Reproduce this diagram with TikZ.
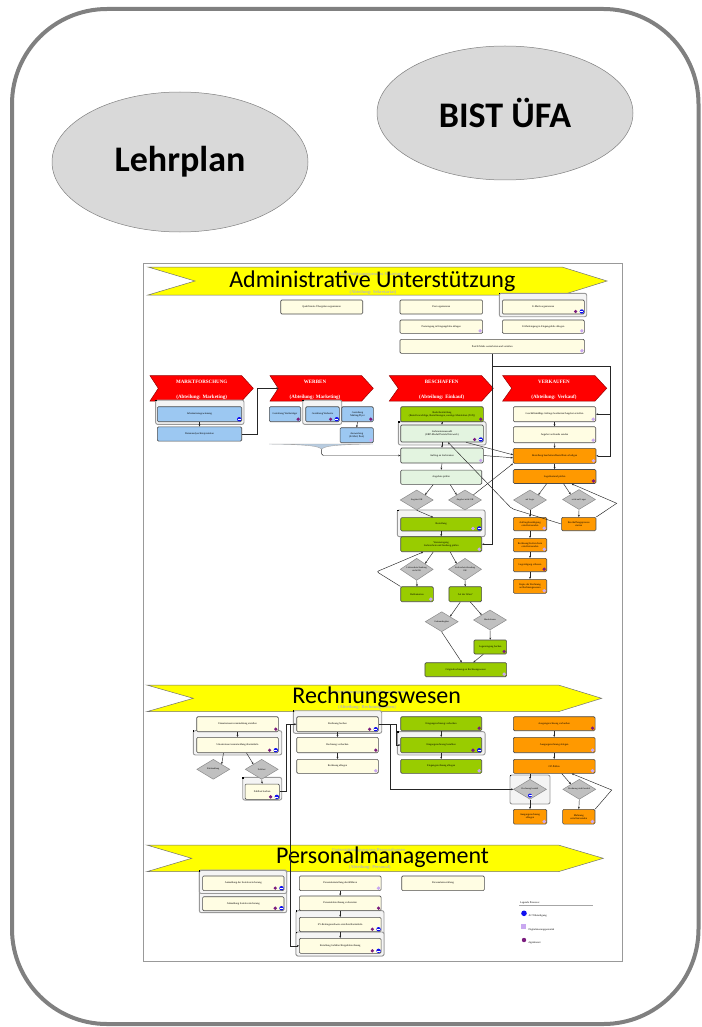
\documentclass[tikz,border=0pt]{standalone}
\usepackage{fontspec}
\setmainfont{Liberation Serif}
\newfontfamily\calfont{Carlito}
\usetikzlibrary{arrows.meta,shapes.geometric}
\definecolor{creamc}{HTML}{FFFDE3}
\definecolor{bluec}{HTML}{9CC8F2}
\definecolor{greenc}{HTML}{99CC00}
\definecolor{lgreenc}{HTML}{E3F4E0}
\definecolor{orangec}{HTML}{FF9900}
\definecolor{redc}{HTML}{FF0000}
\definecolor{yellc}{HTML}{FFFF00}
\definecolor{diac}{HTML}{C0C0C0}
\definecolor{grpc}{HTML}{F4F4F4}
\definecolor{purpc}{HTML}{7B1C7E}
\definecolor{lilac}{HTML}{C9A8F0}
\definecolor{actc}{HTML}{1010F0}
\definecolor{ellc}{HTML}{D9D9D9}
\definecolor{bracec}{HTML}{B8CCE0}
\newcommand\icL[2][2.8]{\fill[lilac] ([shift={(-#1pt,2.8pt)}]#2.south east) circle (1.9pt);}
\newcommand\icP[2][2.8]{\fill[purpc] ([shift={(-#1pt,2.8pt)}]#2.south east) circle (1.8pt);}
\newcommand\icA[1]{\fill[actc] ([shift={(-2.8pt,2.8pt)}]#1.south east) circle (2.2pt);
  \draw[white,line width=0.45pt] ([shift={(-4.3pt,2.8pt)}]#1.south east) -- ([shift={(-1.3pt,2.8pt)}]#1.south east);}
\newcommand\gmark[1]{\fill[black] (#1.north west) rectangle ([shift={(1.6pt,-1.6pt)}]#1.north west);}
\tikzset{
  tf/.style={font=\fontsize{2.6}{3.0}\selectfont},
  wh/.style 2 args={minimum width=#1pt, minimum height=#2pt},
  bx/.style={draw=black!70, line width=0.6pt, rounded corners=1.2pt, inner sep=0pt, align=center, tf, text=black},
  cbox/.style={bx, fill=creamc},
  bbox/.style={bx, fill=bluec},
  gbox/.style={bx, fill=greenc},
  lbox/.style={bx, fill=lgreenc},
  obox/.style={bx, fill=orangec},
  dia/.style={diamond, aspect=1.6, draw=black!45, fill=diac, line width=0.5pt, inner sep=0pt,
     font=\fontsize{2.3}{2.7}\selectfont, align=center, minimum width=33pt, minimum height=20pt},
  grp/.style={draw=black!40, fill=grpc, line width=0.9pt, rounded corners=2pt, inner sep=0pt},
  conn/.style={draw=black!85, line width=0.45pt, -{Stealth[length=2.2pt,width=1.9pt]}},
  ln/.style={draw=black!85, line width=0.45pt},
  bannerfill/.style={fill=yellc, draw=black!55, line width=0.5pt},
  chevfill/.style={fill=redc, draw=red!60!black, line width=0.5pt},
  bannertext/.style={font=\calfont\fontsize{24}{24}\selectfont, inner sep=0pt},
  subtext/.style={font=\bfseries\fontsize{4.5}{5}\selectfont, text=black!28, inner sep=0pt},
  chevtext/.style={font=\bfseries\fontsize{5}{6}\selectfont, text=white, inner sep=0pt},
  elltext/.style={ellipse, draw=black!50, fill=ellc, line width=0.5pt, font=\calfont\bfseries\fontsize{36}{36}\selectfont},
  legtext/.style={font=\fontsize{2.6}{3}\selectfont, anchor=west, inner sep=0pt},
}
\begin{document}
\begin{tikzpicture}[x=1pt,y=-1pt]
\useasboundingbox (0,0) rectangle (701,1027);
% outer frame
\draw[line width=4pt, draw=black!50, fill=white, rounded corners=95pt] (12,9) rectangle (698.5,1024);
\node[elltext, minimum width=256pt, minimum height=140pt] (lehrplan) at (180,162) {Lehrplan};
\node[elltext, minimum width=256pt, minimum height=134pt] (bist) at (505,113) {BIST ÜFA};
% inner diagram frame
\draw[draw=black!40, line width=0.8pt, fill=white] (143,263) rectangle (622,961);

% ---------- banners ----------
\path[bannerfill] (148,267) -- (562,267) -- (607,281) -- (562,295) -- (148,295) -- (195,281) -- cycle;
\node[subtext] (sa1) at (373,274.7) {Unterstützungsprozess Sekretariat};
\node[subtext] (sa2) at (373,292.3) {(Abteilung: Sekretariat)};
\node[bannertext] (ta) at (372.3,281.7) {Administrative Unterstützung};

\path[bannerfill] (146.7,685) -- (558.3,685) -- (601.7,698.3) -- (558.3,711.7) -- (146.7,711.7) -- (193.3,698.3) -- cycle;
\node[subtext] (sr1) at (367,692.7) {Unterstützungsprozess Rechnungswesen};
\node[subtext] (sr2) at (367,707.3) {(Abteilung: Rechnungswesen)};
\node[bannertext] (tr) at (376.7,697.5) {Rechnungswesen};

\path[bannerfill] (146.7,845) -- (558.3,845) -- (603.3,858.3) -- (558.3,871.7) -- (146.7,871.7) -- (191.7,858.3) -- cycle;
\node[subtext] (sp1) at (368.7,850.7) {Unterstützungsprozess Personalwesen};
\node[subtext] (sp2) at (369.7,867.3) {(Abteilung: Personal)};
\node[bannertext] (tp) at (382.5,857.5) {Personalmanagement};

% ---------- red chevrons ----------
\path[chevfill] (150,375.7) -- (241.7,375.7) -- (253.3,388.3) -- (241.7,401) -- (150,401) -- (158.3,388.3) -- cycle;
\node[chevtext] (cm1) at (201.7,381.7) {MARKTFORSCHUNG};
\node[chevtext] (cm2) at (201.7,397.3) {(Abteilung: Marketing)};
\path[chevfill] (270,375.7) -- (361.7,375.7) -- (373.3,388.3) -- (361.7,401) -- (270,401) -- (278.3,388.3) -- cycle;
\coordinate (wn) at (278.3,388.3);
\node[chevtext] (cw1) at (315,381.7) {WERBEN};
\node[chevtext] (cw2) at (315,397.3) {(Abteilung: Marketing)};
\path[chevfill] (389.3,375.7) -- (481.7,375.7) -- (493.3,388.3) -- (481.7,401) -- (389.3,401) -- (398.3,388.3) -- cycle;
\node[chevtext] (cb1) at (441.7,381.7) {BESCHAFFEN};
\node[chevtext] (cb2) at (441.7,397.3) {(Abteilung: Einkauf)};
\path[chevfill] (502.7,375.7) -- (595,375.7) -- (606.7,388.3) -- (595,401) -- (502.7,401) -- (511.7,388.3) -- cycle;
\node[chevtext] (cv1) at (554,381.7) {VERKAUFEN};
\node[chevtext] (cv2) at (554,397.3) {(Abteilung: Verkauf)};

% ---------- groups ----------
\node[grp, wh={87.4}{23.4}] (ga3) at (543,305) {}; \gmark{ga3}
\node[grp, wh={88.3}{24.3}] (gm1) at (199.8,412.2) {}; \gmark{gm1}
\node[grp, wh={39}{24.3}] (gw2) at (322.2,412.2) {}; \gmark{gw2}
\node[grp, wh={87.7}{23.3}] (gb2) at (442.2,433.3) {}; \gmark{gb2}
\node[grp, wh={87.7}{26.7}] (gb5) at (441.2,523.3) {}; \gmark{gb5}
\node[grp, wh={88.4}{24.3}] (gr2) at (237.5,742.8) {}; \gmark{gr2}
\node[grp, wh={39}{22.7}] (gr3) at (262.2,788.7) {}; \gmark{gr3}
\node[grp, wh={88.4}{22.6}] (gr4) at (337.5,722) {}; \gmark{gr4}
\node[grp, wh={87.7}{23.3}] (ge2) at (441.2,743.3) {}; \gmark{ge2}
\node[grp, wh={40}{29}] (go4) at (530,789.5) {}; \gmark{go4}
\node[grp, wh={87.4}{42.7}] (gp1) at (243,891.3) {}; \gmark{gp1}
\node[grp, wh={87.4}{23}] (gp1b) at (243,882) {}; \gmark{gp1b}
\node[grp, wh={88}{45.3}] (gp5) at (340,933.3) {}; \gmark{gp5}
\node[grp, wh={88}{24}] (gp5b) at (340,944) {}; \gmark{gp5b}

% ---------- Administrative ----------
\node[cbox, wh={82}{14}] (a1) at (321.7,307) {Qualifizierte Übergaben organisieren};
\node[cbox, wh={82.7}{14}] (a2) at (441.3,307) {Post organisieren};
\node[cbox, wh={82}{14}] (a3) at (543.3,307) {E-Mails organisieren};
\node[cbox, wh={82.7}{13.4}] (a4) at (441.3,326.7) {Posteingang in Eingangsfolie ablegen};
\node[cbox, wh={82}{13.4}] (a5) at (543.3,326.7) {E-Maileingang in Eingangsfolie ablegen};
\node[cbox, wh={184.4}{14}] (a6) at (492.2,346.3) {Post/E-Mails weiterleiten und verteilen};
\icP[9]{a3}\icA{a3} \icL{a4} \icL{a5} \icL{a6}

% ---------- Marktforschung / Werben ----------
\node[bbox, wh={84.4}{15}] (m1) at (199.5,414.2) {Informationsgewinnung};
\node[bbox, wh={84.4}{14.3}] (m2) at (199.5,434) {Datenanalyse/Interpretation};
\icA{m1}
\node[bbox, wh={31.4}{15}] (w1) at (285,414.2) {Gestaltung Werbeträger};
\node[bbox, wh={33.6}{15}] (w2) at (322.5,414.2) {Gestaltung Webseite};
\node[bbox, wh={31.6}{15}] (w3) at (357.5,414.2) {Gestaltung\\Mailing/Flyer};
\node[bbox, wh={33.3}{15}] (w4) at (356.7,435.2) {Auswertung\\(E-Mail, Post)};
\icP{w1} \icP[9]{w2}\icA{w2} \icP{w3} \icL{w4}
\path[fill=bracec, draw=black!35, line width=0.4pt] (269,444) -- (373,444) .. controls (335,444.6) and (324,446) .. (321.7,449.3) .. controls (319,446) and (308,444.6) .. (269,444) -- cycle;
\coordinate (bt) at (321.7,449.3);

% ---------- Beschaffen ----------
\node[gbox, wh={82.6}{15}] (b1) at (442,414.2) {Bedarfsermittlung\\(Bestellvorschläge, Bestellmengen, sonstige Materialien (ToT))};
\node[lbox, wh={82.6}{17}] (b2) at (442,433.5) {Lieferantenauswahl\\(ERP-Modul/Portale/Netzwerk)};
\node[lbox, wh={82.6}{15}] (b3) at (442,455.5) {Auftrag an Lieferanten};
\node[lbox, wh={81}{14.3}] (b4) at (441.2,477.2) {Angebote prüfen};
\node[dia] (d1) at (416.7,500) {Angebot OK};
\node[dia] (d2) at (465,500) {Angebot nicht OK};
\node[gbox, wh={81}{13.3}] (b5) at (441.2,524.3) {Bestellung};
\node[gbox, wh={81}{15}] (b6) at (441.2,544.2) {Wareneingang\\Lieferschein und Sendung prüfen};
\node[dia, minimum height=22pt] (d3) at (416.7,569.3) {Lieferschein/Sendung\\nicht OK};
\node[dia, minimum height=22pt] (d4) at (465,569.3) {Lieferschein/Sendung\\OK};
\node[gbox, wh={32.6}{15}] (b7) at (417,594.2) {Reklamation};
\node[gbox, wh={32.7}{15}] (b8) at (465.3,594.2) {Art der Ware?};
\node[dia] (d5) at (441.7,621.7) {Gebrauchsgüter};
\node[dia] (d6) at (490,620) {Handelsware};
\node[gbox, wh={32.7}{14}] (b9) at (490.3,647) {Lagereingang buchen};
\node[gbox, wh={81.7}{14}] (b10) at (465.8,669.7) {Originalrechnung an Rechnungswesen};
\icP{b1} \icP[9]{b2}\icA{b2} \icL{b3} \icL[9]{b5}\icA{b5} \icL{b6} \icL{b7} \icP{b9} \icL{b10}

% ---------- Verkaufen ----------
\node[cbox, wh={82.4}{15}] (v1) at (554.5,414.2) {Geschäftsmäßige Anfrage bearbeiten/Angebot erstellen};
\node[cbox, wh={82.4}{16}] (v2) at (554.5,434.7) {Angebot an Kunde senden};
\node[obox, wh={82.7}{15}] (v3) at (554.6,455.8) {Bestellung bearbeiten/Bestellliste erledigen};
\node[obox, wh={82.7}{14}] (v4) at (554.6,476.5) {Lagerbestand prüfen};
\node[dia] (d7) at (530,500) {auf Lager};
\node[dia] (d8) at (579,499.5) {nicht auf Lager};
\node[obox, wh={33.4}{13.4}] (v5) at (530,524) {Auftragsbestätigung\\erstellen/senden};
\node[obox, wh={34.3}{13.4}] (v6) at (578.8,524) {Beschaffungsprozess\\starten};
\node[obox, wh={33.4}{13.4}] (v7) at (530,545) {Rechnung/Lieferschein\\erstellen/senden};
\node[obox, wh={33.4}{13.4}] (v8) at (530,565) {Lagerabgang erfassen};
\node[obox, wh={33.4}{14}] (v9) at (530,586.3) {Kopie der Rechnung\\an Rechnungswesen};
\icL{v1} \icL{v2} \icL{v3} \icP{v4} \icL{v5} \icL{v7} \icP{v8} \icL{v9}

% ---------- Rechnungswesen ----------
\node[cbox, wh={81.6}{15}] (r1) at (237.5,724.2) {Umsatzsteuervoranmeldung erstellen};
\node[cbox, wh={81.6}{15.4}] (r2) at (237.5,745) {Umsatzsteuervoranmeldung übermitteln};
\node[dia] (d9) at (213.3,769.3) {Rückzahlung};
\node[dia] (d10) at (261.7,769.3) {Zahllast};
\node[cbox, wh={34.3}{15.3}] (r3) at (262.2,791.7) {Zahllast buchen};
\node[cbox, wh={81.6}{15}] (r4) at (337.5,724.2) {Rechnung buchen};
\node[cbox, wh={81.6}{15.4}] (r5) at (337.5,745) {Rechnung verbuchen};
\node[cbox, wh={81.6}{14}] (r6) at (337.5,766.3) {Rechnung ablegen};
\node[gbox, wh={81}{14}] (e1) at (441.2,723.7) {Eingangsrechnung vorbuchen};
\node[gbox, wh={81}{15.4}] (e2) at (441.2,745) {Eingangsrechnung bezahlen};
\node[gbox, wh={81}{14}] (e3) at (441.2,766.3) {Eingangsrechnung ablegen};
\node[obox, wh={81.7}{14}] (o1) at (554.2,723.7) {Ausgangsrechnung vorbuchen};
\node[obox, wh={81.7}{15.4}] (o2) at (554.2,745) {Ausgangsrechnung ablegen};
\node[obox, wh={81.7}{14}] (o3) at (554.2,766.3) {OP-Prüfen};
\node[dia] (d11) at (530,789.3) {Rechnung bezahlt};
\node[dia] (d12) at (579.3,789.3) {Rechnung nicht bezahlt};
\node[obox, wh={33.4}{14.7}] (o4) at (530,816.7) {Ausgangsrechnung\\ablegen};
\node[obox, wh={32.3}{14.7}] (o5) at (578.8,816.7) {Mahnung\\erstellen/senden};
\icP{r1} \icP[9]{r2}\icA{r2} \icP[9]{r3}\icA{r3} \icP[9]{r4}\icA{r4} \icP{r5} \icL{r6}
\icP{e1} \icP[9]{e2}\icA{e2} \icL{e3} \icP{o1} \icL{o2} \icL{o3} \icL{o4} \icL{o5}
\fill[actc] ([yshift=4pt]d11.south) circle (2pt);
\draw[white,line width=0.45pt] ([shift={(-1.5pt,4pt)}]d11.south) -- ([shift={(1.5pt,4pt)}]d11.south);

% ---------- Personal ----------
\node[cbox, wh={81.3}{14.7}] (p1) at (243.3,883.3) {Anmeldung der Sozialversicherung};
\node[cbox, wh={81.3}{14}] (p2) at (243.3,903.7) {Abmeldung Sozialversicherung};
\node[cbox, wh={81.7}{14.7}] (p3) at (340.2,883.3) {Personaleinstellung durchführen};
\node[cbox, wh={81.7}{14.7}] (p4) at (340.2,903.3) {Personalabrechnung vorbereiten};
\node[cbox, wh={81.7}{14.4}] (p5) at (340.2,924.5) {SV-Beitragsnachweis erstellen/übermitteln};
\node[cbox, wh={81.7}{15}] (p6) at (340.2,945.8) {Erstellung Gehälter/Entgeltabrechnung};
\node[cbox, wh={82.6}{14.7}] (p7) at (443,883.3) {Personalentwicklung};
\icP[9]{p1}\icA{p1} \icP[9]{p2}\icA{p2} \icL{p3} \icP{p4} \icP[9]{p5}\icA{p5} \icP[9]{p6}\icA{p6}

% ---------- legend ----------
\node[legtext] (lg0) at (520,902.7) {Legende Prozesse:};
\draw[black!35, line width=0.6pt] (519,905.7) -- (593,905.7);
\fill[actc] (524,913.3) circle (2.8pt);
\node[legtext] (lg1) at (528.5,916.3) {ACT-Beteiligung};
\fill[lilac] (521,924.4) rectangle (525.6,929);
\node[legtext] (lg2) at (528.5,929.8) {Digitalisierungspotential};
\fill[purpc] (524,940) circle (2.2pt);
\node[legtext] (lg3) at (528.5,943.3) {digitalisiert};

% ---------- connectors ----------
\coordinate (k0) at (492.2,366);
\coordinate (k1) at (610,366);
\draw[conn] (a6.south) |- (k1) |- (v1.east);
\draw[conn] (k1) |- (v3.east);
\draw[conn] (k0) |- (b6.east);
\draw[conn] (m1.south) -- (m2.north);
\coordinate (k2) at (257,388.3);
\draw[conn] (m2.east) -| (k2) -- (wn);
\draw[conn] (w3.south) -- (w4.north);
\draw[conn, rounded corners=1.5pt] (bt) |- (b3.west);
\draw[conn] (b1.south) -- (b2.north);
\draw[conn] (b2.south) -- (b3.north);
\draw[conn] (b3.south) -- (b4.north);
\draw[conn] ([xshift=-8pt]b4.south) -- (d1.north east);
\draw[conn] ([xshift=9pt]b4.south) -- (d2.north west);
\draw[conn] (d1.south) -- ([xshift=-8pt]b5.north);
\draw[conn] (b5.south) -- (b6.north);
\draw[conn] ([xshift=-8pt]b6.south) -- (d3.north east);
\draw[conn] ([xshift=9pt]b6.south) -- (d4.north west);
\draw[conn] (d3.south) -- (b7.north);
\draw[conn] (d4.south) -- (b8.north);
\coordinate (k3) at (376.7,571.7);
\draw[conn, rounded corners=2pt] (b7.north west) -- (k3) -- ([xshift=-18pt]b6.south);
\draw[conn] ([xshift=-5pt]b8.south) -- (d5.north east);
\draw[conn] ([xshift=5pt]b8.south) -- (d6.north west);
\draw[conn] (d5.south) -- ([xshift=-4pt]b10.north);
\draw[conn] (d6.south) -- (b9.north);
\draw[conn] ([xshift=-7pt]b9.south) -- ([xshift=7.5pt]b10.north);
\draw[conn] (b3.east) -- ([yshift=-2pt]v3.west);
\draw[conn] ([xshift=24pt]b2.south) -- ([yshift=1pt]v3.west);
\draw[conn] (d2.north east) -- (v3.south west);
\coordinate (k4) at (511.7,508.6);
\draw[conn, rounded corners=2pt] (v6.west) -- (k4) -- ([xshift=6pt]b2.south);
\draw[conn] (v1.south) -- (v2.north);
\draw[conn] (v2.south) -- (v3.north);
\draw[conn] (v3.south) -- (v4.north);
\draw[conn] ([xshift=-8pt]v4.south) -- (d7.north east);
\draw[conn] ([xshift=9pt]v4.south) -- (d8.north west);
\draw[conn] (d7.south) -- (v5.north);
\draw[conn] (d8.south) -- (v6.north);
\coordinate (k5) at (616.7,503.3);
\draw[conn] (v6.north east) -- (k5) -- ([xshift=17pt]v4.south);
\draw[conn] (v5.south) -- (v7.north);
\draw[conn] (v7.south) -- (v8.north);
\draw[conn] (v8.south) -- (v9.north);
% Rechnungswesen
\draw[conn] (r1.south) -- (r2.north);
\draw[conn] ([xshift=-14pt]r2.south) -- (d9.north east);
\draw[conn] ([xshift=9pt]r2.south) -- (d10.north west);
\draw[conn] (d10.south) -- (r3.north);
\coordinate (k7) at (286.7,724.2);
\draw[conn] (r3.east) -| (k7) -- (r4.west);
\coordinate (k8) at (290.7,724.2);
\draw[conn] (k8) |- (p6.west);
\draw[conn] (r4.south) -- (r5.north);
\draw[conn] (r5.south) -- (r6.north);
\coordinate (k9) at (390,724.2);
\coordinate (k10) at (396.7,724.2);
\draw[conn] (r4.east) -- (k9) |- (d11.west);
\draw[conn] (k9) -- (k10) |- (e2.west);
\draw[conn] (e1.south) -- (e2.north);
\draw[conn] (e2.south) -- (e3.north);
\draw[conn] (o1.south) -- (o2.north);
\draw[conn] (o2.south) -- (o3.north);
\draw[conn] (d11.north |- o3.south) -- (d11.north);
\draw[conn] ([xshift=7.5pt]o3.south) -- (d12.north west);
\draw[conn] (d11.south) -- (o4.north);
\draw[conn] (d12.south) -- (o5.north);
\coordinate (k11) at (611.7,790);
\draw[conn] (o5.north east) -- (k11) -- ([xshift=17.5pt]o3.south);
% Personal
\draw[conn] (p3.south) -- (p4.north);
\draw[conn] (p4.south) -- (p5.north);
\draw[conn] (p5.south) -- (p6.north);
\end{tikzpicture}
\end{document}
